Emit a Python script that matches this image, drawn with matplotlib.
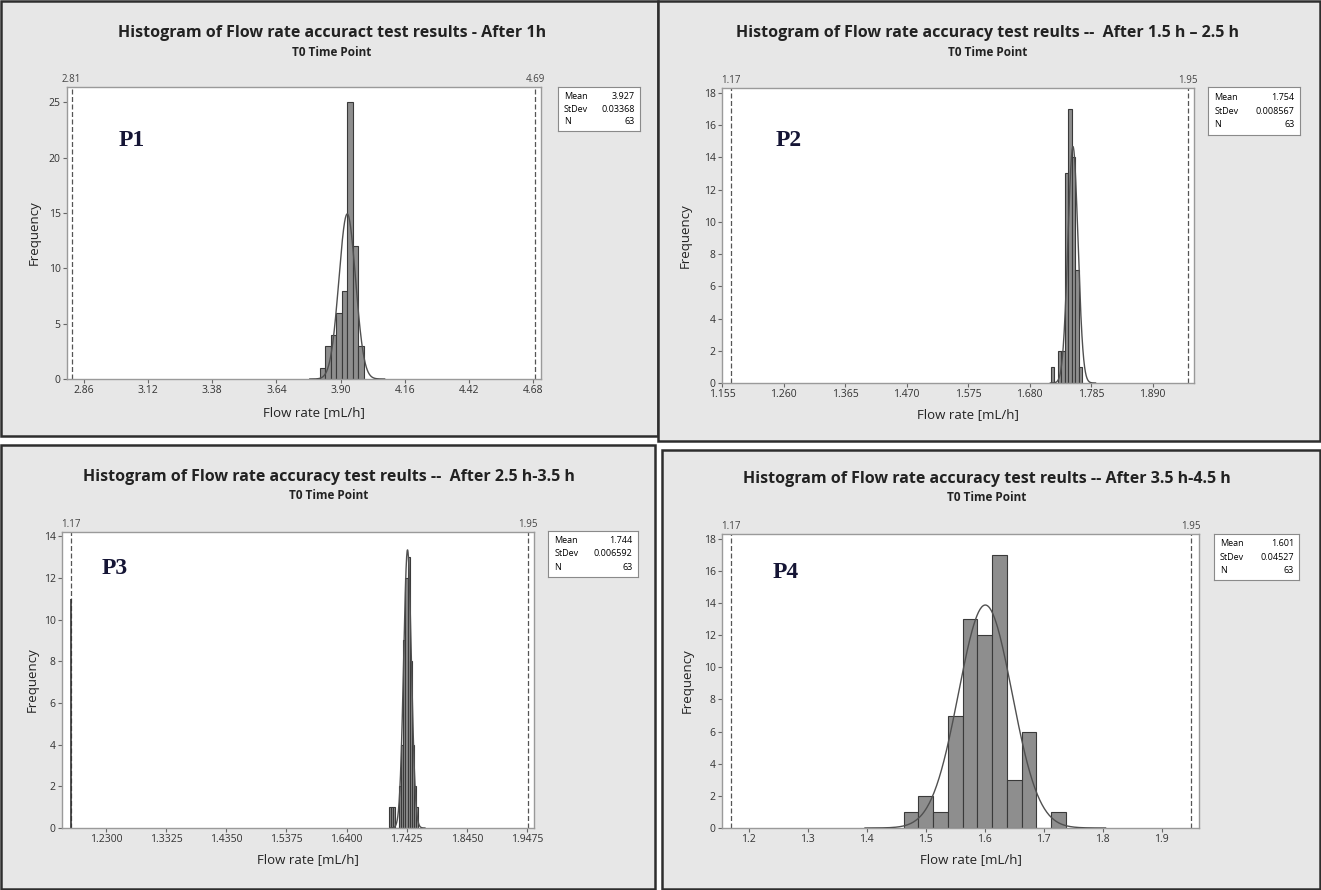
import math
import numpy as np
import matplotlib
matplotlib.use("Agg")
from matplotlib import pyplot as plt
from matplotlib.patches import Rectangle
from matplotlib.transforms import blended_transform_factory

# ---- data ----
n_obs = 63

p1_title = "Histogram of Flow rate accuract test results - After 1h"
p1_bin_start, p1_bin_width = 3.815, 0.0225
p1_counts = [1, 3, 4, 6, 8, 25, 12, 3]
p1_mean, p1_sd = 3.927, 0.03368
p1_curve_bw = 0.02
p1_spec = [2.81, 4.69]
p1_xticks = [2.86, 3.12, 3.38, 3.64, 3.90, 4.16, 4.42, 4.68]
p1_yticks = [0, 5, 10, 15, 20, 25]

p2_title = "Histogram of Flow rate accuracy test reults --  After 1.5 h \u2013 2.5 h"
p2_bin_start, p2_bin_width = 1.716, 0.006
p2_counts = [1, 0, 2, 2, 13, 17, 14, 7, 1]
p2_mean, p2_sd = 1.754, 0.008567
p2_curve_bw = 0.005
p2_spec = [1.17, 1.95]
p2_xticks = [1.155, 1.260, 1.365, 1.470, 1.575, 1.680, 1.785, 1.890]
p2_yticks = [0, 2, 4, 6, 8, 10, 12, 14, 16, 18]

p3_title = "Histogram of Flow rate accuracy test reults --  After 2.5 h-3.5 h"
p3_bin_start, p3_bin_width = 1.7125, 0.0035
p3_counts = [1, 1, 1, 0, 0, 2, 4, 9, 12, 13, 8, 4, 2, 1]
p3_mean, p3_sd = 1.744, 0.006592
p3_curve_bw = 0.0035
p3_spec = [1.17, 1.95]
p3_xticks = [1.2300, 1.3325, 1.4350, 1.5375, 1.6400, 1.7425, 1.8450, 1.9475]
p3_yticks = [0, 2, 4, 6, 8, 10, 12, 14]
p3_stray_height = 11

p4_title = "Histogram of Flow rate accuracy test reults -- After 3.5 h-4.5 h"
p4_bin_start, p4_bin_width = 1.4625, 0.025
p4_counts = [1, 2, 1, 7, 13, 12, 17, 3, 6, 0, 1]
p4_mean, p4_sd = 1.601, 0.04527
p4_curve_bw = 0.025
p4_spec = [1.17, 1.95]
p4_xticks = [1.2, 1.3, 1.4, 1.5, 1.6, 1.7, 1.8, 1.9]
p4_yticks = [0, 2, 4, 6, 8, 10, 12, 14, 16, 18]

W, H = 1321, 890
fig = plt.figure(figsize=(W / 100, H / 100), dpi=100)
fig.patch.set_facecolor("white")
FONT = "Open Sans"


def fx(x):
    return x / W


def fy(y):
    return 1 - y / H


def panel(box, ax_box, leg_box, title_xy, tag_xy, ylab_x, xlab_y,
          title, label, start, bw, counts, mean, sd, curve_bw, spec,
          xticks, yticks, xlim, ylim, tick_fmt, sd_txt):
    x0, y0, x1, y1 = box
    fig.patches.append(Rectangle((fx(x0), fy(y1)), fx(x1 - x0), (y1 - y0) / H,
                                 transform=fig.transFigure, facecolor="#e7e7e7",
                                 edgecolor="#2e2e2e", lw=1.8, zorder=-5))
    l, t, r, b = ax_box
    ax = fig.add_axes([fx(l), fy(b), fx(r - l), (b - t) / H])
    ax.set_zorder(1)
    edges = start + bw * np.arange(len(counts) + 1)
    ax.bar(edges[:-1], counts, width=bw, align="edge", color="#8e8e8e",
           edgecolor="#3a3a3a", lw=0.8, zorder=2)
    xs = np.linspace(mean - 4.5 * sd, mean + 4.5 * sd, 300)
    pdf = np.exp(-0.5 * ((xs - mean) / sd) ** 2) / (sd * math.sqrt(2 * math.pi))
    ax.plot(xs, n_obs * curve_bw * pdf, color="#505050", lw=1.0, zorder=3)
    trans = blended_transform_factory(ax.transData, ax.transAxes)
    for s in spec:
        ax.axvline(s, color="#555555", lw=0.9, ls=(0, (4, 2)), zorder=1)
        ax.text(s, 1.008, f"{s:.2f}", transform=trans, ha="center", va="bottom",
                fontsize=7, color="#444444", family=FONT)
    ax.set_xlim(*xlim)
    ax.set_ylim(*ylim)
    ax.set_xticks(xticks)
    ax.set_xticklabels([tick_fmt.format(v) for v in xticks])
    ax.set_yticks(yticks)
    ax.tick_params(length=3, width=0.8, color="#666666", labelsize=7.5,
                   labelcolor="#333333", pad=1.5)
    for lab in ax.get_xticklabels() + ax.get_yticklabels():
        lab.set_family(FONT)
    for sp in ax.spines.values():
        sp.set_color("#9a9a9a")
        sp.set_linewidth(1.0)
    fig.text(fx(ylab_x), fy((t + b) / 2), "Frequency", rotation=90, ha="center",
             va="center", fontsize=9.5, family=FONT, color="#222222")
    fig.text(fx((l + r) / 2 + 10), fy(xlab_y), "Flow rate [mL/h]", ha="center",
             va="center", fontsize=9.5, family=FONT, color="#222222")
    fig.text(fx(title_xy[0]), fy(title_xy[1]), title, ha="center", va="center",
             fontsize=11.5, weight="bold", family=FONT, color="#222222")
    fig.text(fx(title_xy[0]), fy(title_xy[1] + 19), "T0 Time Point", ha="center",
             va="center", fontsize=8.5, weight="bold", family=FONT, color="#222222")
    fig.text(fx(tag_xy[0]), fy(tag_xy[1]), label, ha="center", va="center",
             fontsize=17, weight="bold", family="Liberation Serif", color="#151535",
             bbox=dict(facecolor="white", edgecolor="none", pad=2), zorder=5)
    # stats box
    lx0, ly0, lx1, ly1 = leg_box
    lax = fig.add_axes([fx(lx0), fy(ly1), fx(lx1 - lx0), (ly1 - ly0) / H])
    lax.set_xticks([])
    lax.set_yticks([])
    for sp in lax.spines.values():
        sp.set_color("#8a8a8a")
        sp.set_linewidth(0.8)
    rows = [("Mean", f"{mean}"), ("StDev", sd_txt), ("N", f"{n_obs}")]
    for i, (k, v) in enumerate(rows):
        yy = 0.79 - i * 0.29
        lax.text(0.07, yy, k, ha="left", va="center", fontsize=6.5, family=FONT)
        lax.text(0.94, yy, v, ha="right", va="center", fontsize=6.5, family=FONT)
    return ax


panel((1, 1, 658, 436), (67, 87, 541, 379), (558, 87, 640, 131), (332, 33),
      (132, 140), 34, 413, p1_title, "P1", p1_bin_start, p1_bin_width, p1_counts,
      p1_mean, p1_sd, p1_curve_bw, p1_spec, p1_xticks, p1_yticks,
      (2.791, 4.7125), (0, 26.4), "{:.2f}", "0.03368")

panel((658, 1, 1320, 441), (722, 88, 1194, 383), (1208, 87, 1300, 135), (988, 33),
      (789, 140), 685, 415, p2_title, "P2", p2_bin_start, p2_bin_width, p2_counts,
      p2_mean, p2_sd, p2_curve_bw, p2_spec, p2_xticks, p2_yticks,
      (1.155, 1.9606), (0, 18.3), "{:.3f}", "0.008567")

ax3 = panel((1, 445, 655, 889), (62, 532, 534, 828), (548, 531, 638, 577), (329, 477),
            (115, 568), 32, 860, p3_title, "P3", p3_bin_start, p3_bin_width, p3_counts,
            p3_mean, p3_sd, p3_curve_bw, p3_spec, p3_xticks, p3_yticks,
            (1.155, 1.9596), (0, 14.2), "{:.4f}", "0.006592")
ax3.vlines(p3_spec[0], 0, p3_stray_height, color="#333333", lw=1.2, zorder=2)

panel((662, 450, 1320, 889), (722, 534, 1199, 828), (1214, 534, 1299, 580), (987, 479),
      (786, 572), 687, 860, p4_title, "P4", p4_bin_start, p4_bin_width, p4_counts,
      p4_mean, p4_sd, p4_curve_bw, p4_spec, p4_xticks, p4_yticks,
      (1.155, 1.963), (0, 18.3), "{:.1f}", "0.04527")

fig.savefig("out.png", dpi=100)
